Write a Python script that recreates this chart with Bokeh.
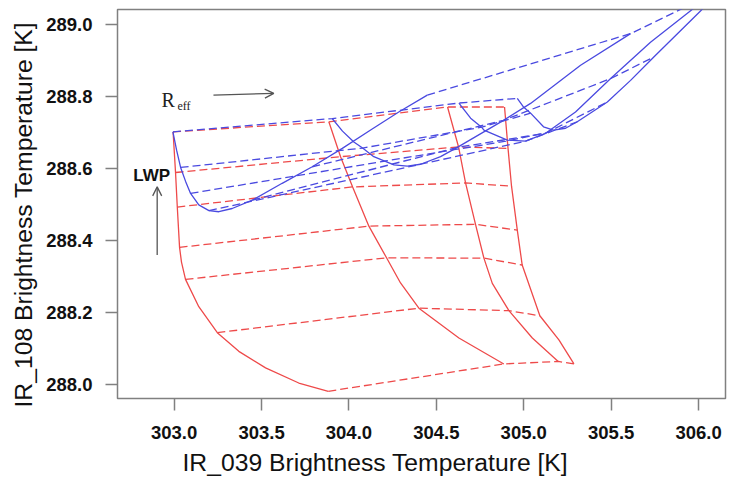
from bokeh.plotting import figure
from bokeh.models import FixedTicker, Arrow, OpenHead, Label, Title, Range1d
from bokeh.embed import file_html
from bokeh.resources import INLINE

# ---------------- data (brightness temperatures, K) ----------------
# Red lookup table: solid curves = constant Reff (R1..R4)
red_r1_x = [302.994, 303.008, 303.018, 303.031, 303.042, 303.065, 303.141, 303.247, 303.370, 303.523, 303.713, 303.882]
red_r1_y = [288.702, 288.589, 288.493, 288.381, 288.340, 288.292, 288.216, 288.144, 288.092, 288.046, 288.004, 287.981]
red_r2_x = [303.885, 303.952, 304.021, 304.114, 304.215, 304.295, 304.400, 304.629, 304.886]
red_r2_y = [288.730, 288.633, 288.549, 288.440, 288.352, 288.282, 288.212, 288.129, 288.057]
red_r3_x = [304.564, 304.627, 304.667, 304.724, 304.772, 304.820, 304.915, 305.049, 305.197]
red_r3_y = [288.771, 288.660, 288.560, 288.445, 288.351, 288.281, 288.205, 288.129, 288.064]
red_r4_x = [304.890, 304.910, 304.930, 304.963, 304.991, 305.092, 305.201, 305.287]
red_r4_y = [288.771, 288.656, 288.551, 288.429, 288.332, 288.191, 288.124, 288.057]

# Red dashed curves = constant LWP (L1..L7), nodes on R1..R4
red_lwp_x = [
    [302.994, 303.885, 304.564, 304.890],
    [303.008, 303.952, 304.627, 304.910],
    [303.018, 304.021, 304.667, 304.930],
    [303.031, 304.114, 304.724, 304.963],
    [303.065, 304.215, 304.772, 304.991],
    [303.247, 304.400, 304.915, 305.092],
    [303.882, 304.886, 305.197, 305.287],
]
red_lwp_y = [
    [288.702, 288.730, 288.771, 288.771],
    [288.589, 288.633, 288.660, 288.656],
    [288.493, 288.549, 288.560, 288.551],
    [288.381, 288.440, 288.445, 288.429],
    [288.292, 288.352, 288.351, 288.332],
    [288.144, 288.212, 288.205, 288.191],
    [287.981, 288.057, 288.064, 288.057],
]

# Blue lookup table: solid curves = constant Reff (B1..B4)
blue_b1_x = [302.993, 303.014, 303.037, 303.065, 303.094, 303.141, 303.199, 303.256, 303.332, 303.447, 303.618, 303.790, 303.962, 304.124, 304.285, 304.448]
blue_b1_y = [288.702, 288.651, 288.603, 288.565, 288.531, 288.499, 288.483, 288.480, 288.489, 288.512, 288.559, 288.605, 288.656, 288.707, 288.757, 288.804]
blue_b2_x = [303.904, 303.963, 304.028, 304.078, 304.142, 304.257, 304.334, 304.410, 304.524, 304.620, 304.884, 305.039, 305.325, 305.611]
blue_b2_y = [288.739, 288.704, 288.674, 288.657, 288.633, 288.610, 288.607, 288.612, 288.633, 288.659, 288.734, 288.781, 288.887, 288.975]
blue_b3_x = [304.629, 304.696, 304.759, 304.772, 304.906, 305.010, 305.125, 305.296, 305.497, 305.725, 305.958, 306.040]
blue_b3_y = [288.782, 288.740, 288.715, 288.707, 288.679, 288.676, 288.698, 288.757, 288.850, 288.951, 289.040, 289.076]
blue_b4_x = [304.963, 304.999, 305.039, 305.113, 305.170, 305.239, 305.306, 305.478, 305.611, 305.744, 306.011, 306.080]
blue_b4_y = [288.795, 288.771, 288.754, 288.716, 288.707, 288.712, 288.730, 288.785, 288.845, 288.910, 289.038, 289.073]

# Blue dashed curves = constant LWP
blue_lwp_x = [
    [302.993, 303.904, 304.629, 304.963],
    [303.037, 304.078, 304.759, 305.039],
    [303.094, 304.209, 304.898, 305.142],
    [303.199, 304.410, 305.010, 305.306],
    [303.447, 304.620, 305.125, 305.478],
    [303.790, 304.884, 305.497, 305.744],
    [304.448, 305.611, 306.040, 306.300],
]
blue_lwp_y = [
    [288.702, 288.739, 288.782, 288.795],
    [288.603, 288.657, 288.715, 288.754],
    [288.531, 288.621, 288.676, 288.701],
    [288.483, 288.612, 288.676, 288.730],
    [288.512, 288.659, 288.698, 288.785],
    [288.605, 288.734, 288.850, 288.910],
    [288.804, 288.975, 289.076, 289.150],
]

x_ticks = [303.0, 303.5, 304.0, 304.5, 305.0, 305.5, 306.0]
y_ticks = [288.0, 288.2, 288.4, 288.6, 288.8, 289.0]
x_label = "IR_039 Brightness Temperature [K]"
y_label = "IR_108 Brightness Temperature [K]"

RED = "#ee4a4a"
BLUE = "#4a4ae0"
GRAY = "#808080"
DASH = "8 4"

p = figure(width=728, height=480,
           x_range=Range1d(302.676, 306.154), y_range=Range1d(287.961, 289.042),
           output_backend="svg", toolbar_location=None,
           min_border_left=117, min_border_right=3, min_border_top=9, min_border_bottom=81)
p.grid.visible = False
p.outline_line_color = GRAY
p.outline_line_width = 1.5
p.background_fill_color = "white"
p.border_fill_color = "white"

for ax in (p.xaxis[0], p.yaxis[0]):
    ax.axis_line_color = None
    ax.major_tick_line_color = GRAY
    ax.major_tick_line_width = 1.5
    ax.major_tick_out = 12
    ax.major_tick_in = 0
    ax.minor_tick_line_color = None
    ax.major_label_text_font = "Liberation Sans"
    ax.major_label_text_font_size = "18.5px"
    ax.major_label_text_font_style = "bold"
    ax.major_label_text_color = "#111111"

p.xaxis.ticker = FixedTicker(ticks=x_ticks)
p.yaxis.ticker = FixedTicker(ticks=y_ticks)
p.xaxis.major_label_overrides = {t: f"{t:.1f}" for t in x_ticks}
p.yaxis.major_label_overrides = {t: f"{t:.1f}" for t in y_ticks}
p.xaxis.major_label_standoff = 15
p.yaxis.major_label_standoff = 13

p.add_layout(Title(text=x_label, align="left", offset=65, text_font="Liberation Sans",
                   text_font_size="24.7px", text_font_style="normal", text_color="#111111",
                   standoff=10), "below")
p.add_layout(Title(text=y_label, align="left", offset=-9, text_font="Liberation Sans",
                   text_font_size="24.7px", text_font_style="normal", text_color="#111111",
                   standoff=14), "left")

# red grid
for xs, ys in ((red_r1_x, red_r1_y), (red_r2_x, red_r2_y), (red_r3_x, red_r3_y), (red_r4_x, red_r4_y)):
    p.line(xs, ys, line_color=RED, line_width=1.3)
for xs, ys in zip(red_lwp_x, red_lwp_y):
    p.line(xs, ys, line_color=RED, line_width=1.3, line_dash=DASH)

# blue grid
for xs, ys in ((blue_b1_x, blue_b1_y), (blue_b2_x, blue_b2_y), (blue_b3_x, blue_b3_y), (blue_b4_x, blue_b4_y)):
    p.line(xs, ys, line_color=BLUE, line_width=1.3)
for xs, ys in zip(blue_lwp_x, blue_lwp_y):
    p.line(xs, ys, line_color=BLUE, line_width=1.3, line_dash=DASH)

# annotations
ARROW = "#555555"
p.add_layout(Label(x=302.928, y=288.790, text="R", text_font="Liberation Serif",
                   text_font_size="20px", text_color="#222222", text_baseline="alphabetic"))
p.add_layout(Label(x=303.019, y=288.773, text="eff", text_font="Liberation Serif",
                   text_font_size="12px", text_color="#222222", text_baseline="alphabetic"))
p.add_layout(Arrow(x_start=303.225, y_start=288.804, x_end=303.570, y_end=288.809,
                   line_color=ARROW, line_width=1.3,
                   end=OpenHead(size=9, line_color=ARROW, line_width=1.3)))
p.add_layout(Label(x=302.872, y=288.580, text="LWP", text_font="Liberation Sans",
                   text_font_size="17px", text_font_style="bold", text_color="#111111",
                   text_align="center", text_baseline="alphabetic"))
p.add_layout(Arrow(x_start=302.903, y_start=288.360, x_end=302.903, y_end=288.549,
                   line_color=ARROW, line_width=1.3,
                   end=OpenHead(size=9, line_color=ARROW, line_width=1.3)))

open("out.html", "w").write(file_html(p, INLINE))
